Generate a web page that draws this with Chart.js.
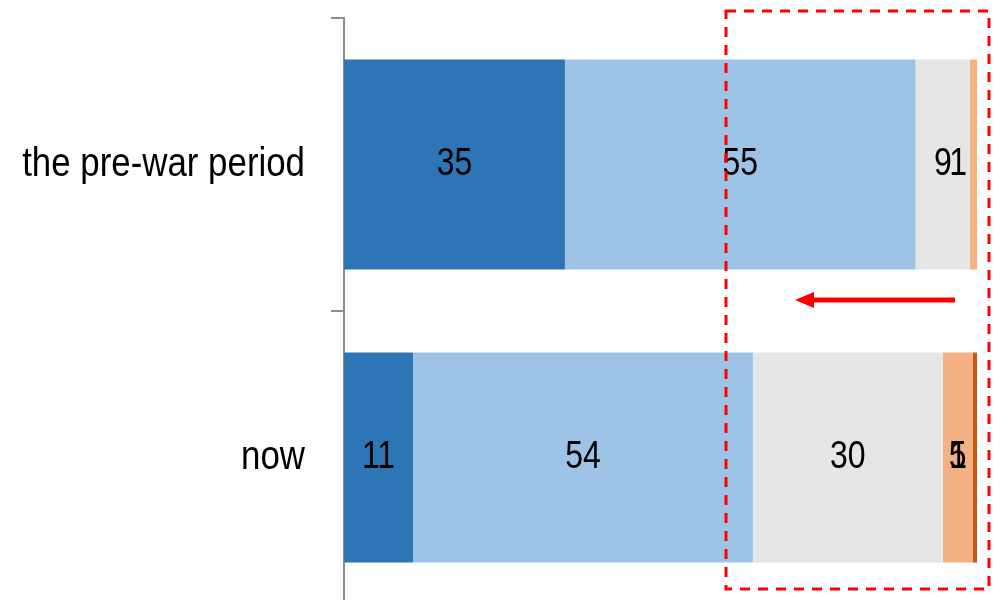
<!DOCTYPE html>
<html>
<head>
<meta charset="utf-8">
<script src="https://cdn.jsdelivr.net/npm/chart.js@4/dist/chart.umd.min.js"></script>
<style>
  html, body { margin: 0; padding: 0; background: #fff; overflow: hidden; height: 600px; }
  canvas { display: block; }
</style>
</head>
<body>
<canvas id="chart" width="1005" height="604"></canvas>
<script>
// categories (top to bottom)
const categories = ["the pre-war period", "now"];

// stacked shares, left to right
const series1 = [34.9, 10.9];
const series2 = [55.4, 53.7];
const series3 = [8.6, 30.0];
const series4 = [1.1, 4.7];
const series5 = [0, 0.7];

const seriesNames = ["Series 1", "Series 2", "Series 3", "Series 4", "Series 5"];
const seriesColors = ["#2E75B6", "#9DC3E6", "#E6E6E6", "#F4B183", "#C55A11"];

const FONT = "'Liberation Sans', Arial, sans-serif";

// original text is a narrow face, squeeze it sideways
function narrowText(ctx, txt, x, y, squeeze) {
  ctx.save();
  ctx.translate(x, y);
  ctx.scale(squeeze, 1);
  ctx.fillText(txt, 0, 0);
  ctx.restore();
}

// category names and value labels
const textLayer = {
  id: "textLayer",
  afterDatasetsDraw(chart) {
    const ctx = chart.ctx;
    const area = chart.chartArea;
    const yScale = chart.scales.y;
    ctx.save();
    ctx.fillStyle = "#000";
    ctx.textBaseline = "middle";

    ctx.font = "41px " + FONT;
    ctx.textAlign = "right";
    categories.forEach((c, i) => {
      narrowText(ctx, c, area.left - 39, yScale.getPixelForValue(i), 0.85);
    });

    ctx.font = "39px " + FONT;
    ctx.textAlign = "center";
    chart.data.datasets.forEach((ds, i) => {
      const meta = chart.getDatasetMeta(i);
      meta.data.forEach((bar, j) => {
        const v = ds.data[j];
        if (!v) return;
        const txt = String(Math.round(v));
        const w = ctx.measureText(txt).width * 0.82;
        let x = (bar.x + bar.base) / 2;
        // keep label inside the plot like the original
        x = Math.min(x, area.right - 10 - w / 2);
        narrowText(ctx, txt, x, bar.y, 0.82);
      });
    });
    ctx.restore();
  }
};

// red dashed box and arrow overlay
const overlay = {
  id: "overlay",
  afterDraw(chart) {
    const ctx = chart.ctx;
    ctx.save();
    ctx.strokeStyle = "#FF0000";
    ctx.lineWidth = 3;
    ctx.setLineDash([10, 8]);
    ctx.strokeRect(726, 11, 263, 578);
    ctx.setLineDash([]);
    ctx.lineWidth = 5;
    ctx.beginPath();
    ctx.moveTo(955, 300);
    ctx.lineTo(810, 300);
    ctx.stroke();
    ctx.fillStyle = "#FF0000";
    ctx.beginPath();
    ctx.moveTo(795, 300);
    ctx.lineTo(814, 292);
    ctx.lineTo(814, 308);
    ctx.closePath();
    ctx.fill();
    ctx.restore();
  }
};

const allSeries = [series1, series2, series3, series4, series5];

new Chart(document.getElementById("chart").getContext("2d"), {
  type: "bar",
  data: {
    labels: categories,
    datasets: allSeries.map((d, i) => ({
      label: seriesNames[i],
      data: d,
      backgroundColor: seriesColors[i],
      borderWidth: 0,
      categoryPercentage: 1,
      barPercentage: 0.716
    }))
  },
  options: {
    indexAxis: "y",
    responsive: false,
    animation: false,
    layout: { padding: { top: 18, bottom: 0, left: 24, right: 28 } },
    plugins: {
      legend: { display: false },
      tooltip: { enabled: false }
    },
    scales: {
      x: {
        stacked: true,
        min: 0,
        max: 100,
        display: false
      },
      y: {
        stacked: true,
        afterFit: s => { s.width = 320; },
        border: { display: true, color: "#8C8C8C", width: 2 },
        grid: {
          drawOnChartArea: false,
          drawTicks: true,
          tickLength: 13,
          color: "#8C8C8C",
          lineWidth: 2
        },
        ticks: { display: false }
      }
    }
  },
  plugins: [textLayer, overlay]
});
</script>
</body>
</html>
